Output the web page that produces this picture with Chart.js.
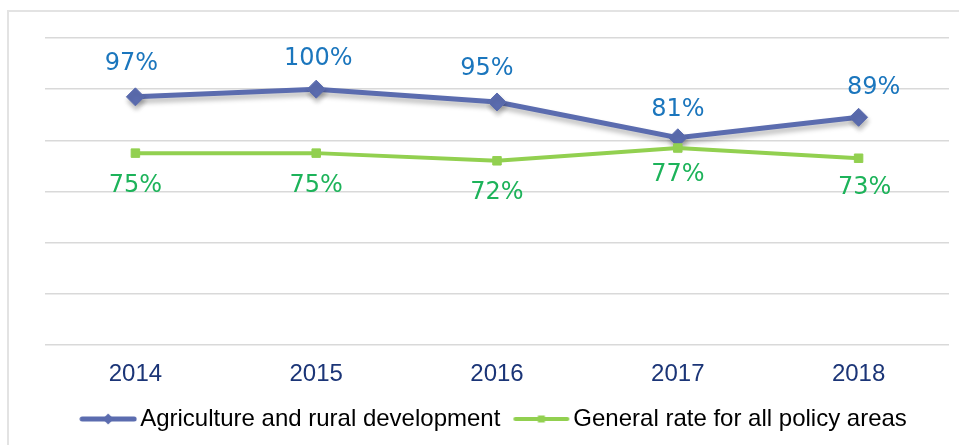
<!DOCTYPE html>
<html>
<head>
<meta charset="utf-8">
<script src="https://cdn.jsdelivr.net/npm/chart.js@4/dist/chart.umd.min.js"></script>
<style>
  html, body { margin: 0; padding: 0; background: #ffffff; }
  #frame { position: absolute; left: 7px; top: 10px; width: 970px; height: 460px; border: 2px solid #e3e3e3; box-sizing: border-box; }
  #wrap { position: absolute; left: 0; top: 0; width: 959px; height: 445px; }
</style>
</head>
<body>
<div id="frame"></div>
<div id="wrap"><canvas id="c" width="959" height="445"></canvas></div>
<script>
const years = ['2014', '2015', '2016', '2017', '2018'];
const agriculture = [97, 100, 95, 81, 89];
const generalRate = [75, 75, 72, 77, 73];
const seriesNames = ['Agriculture and rural development', 'General rate for all policy areas'];
const yTicks = [0, 20, 40, 60, 80, 100, 120];

const BLUE = '#5B6CAF';
const GREEN = '#92D050';

function legendImage(color, lineW, style, r) {
  const cv = document.createElement('canvas');
  cv.width = 58; cv.height = 14;
  const g = cv.getContext('2d');
  g.strokeStyle = color; g.fillStyle = color; g.lineWidth = lineW; g.lineCap = 'round';
  g.beginPath(); g.moveTo(3, 7); g.lineTo(55, 7); g.stroke();
  g.beginPath();
  if (style === 'diamond') {
    g.moveTo(29, 7 - r); g.lineTo(29 + r, 7); g.lineTo(29, 7 + r); g.lineTo(29 - r, 7); g.closePath();
  } else {
    g.rect(29 - r, 7 - r, 2 * r, 2 * r);
  }
  g.fill();
  return cv;
}
const legendImgs = [legendImage(BLUE, 5, 'diamond', 5.5), legendImage(GREEN, 4, 'square', 3.5)];

const shadowPlugin = {
  id: 'shadowLine',
  beforeDatasetDraw(chart, args) {
    if (args.index === 0) {
      const ctx = chart.ctx;
      ctx.save();
      ctx.shadowColor = 'rgba(0,0,0,0.28)';
      ctx.shadowBlur = 5;
      ctx.shadowOffsetY = 4;
      ctx.shadowOffsetX = 1;
    }
  },
  afterDatasetDraw(chart, args) {
    if (args.index === 0) chart.ctx.restore();
  }
};

const labelPlugin = {
  id: 'pointLabels',
  afterDatasetsDraw(chart, args, opts) {
    const ctx = chart.ctx;
    ctx.save();
    ctx.font = '24px "DejaVu Sans", Verdana, sans-serif';
    ctx.textAlign = 'center';
    ctx.textBaseline = 'middle';
    chart.data.datasets.forEach((ds, di) => {
      const meta = chart.getDatasetMeta(di);
      const cfg = opts.series[di];
      ctx.fillStyle = cfg.color;
      meta.data.forEach((pt, i) => {
        ctx.fillText(ds.data[i] + '%', pt.x + cfg.dx[i], pt.y + cfg.dy[i]);
      });
    });
    ctx.restore();
  }
};

new Chart(document.getElementById('c'), {
  type: 'line',
  data: {
    labels: years,
    datasets: [
      {
        label: seriesNames[0],
        data: agriculture,
        borderColor: BLUE,
        backgroundColor: BLUE,
        borderWidth: 5,
        pointStyle: 'rectRot',
        pointRadius: 9,
        pointHoverRadius: 9,
        pointBorderWidth: 1,
        tension: 0,
        order: 1
      },
      {
        label: seriesNames[1],
        data: generalRate,
        borderColor: GREEN,
        backgroundColor: GREEN,
        borderWidth: 4,
        pointStyle: 'rect',
        pointRadius: 6,
        pointHoverRadius: 6,
        pointBorderWidth: 1,
        tension: 0,
        order: 0
      }
    ]
  },
  options: {
    responsive: false,
    animation: false,
    devicePixelRatio: 1,
    layout: { padding: { left: 45, right: 9, top: 38, bottom: 4 } },
    scales: {
      x: {
        offset: true,
        grid: { display: false, drawTicks: false },
        border: { display: false },
        afterFit(scale) { scale.height = 41; },
        ticks: {
          color: '#1B3577',
          padding: 15,
          font: { family: '"Liberation Sans", Arial, sans-serif', size: 24 }
        }
      },
      y: {
        min: 0,
        max: 120,
        afterBuildTicks(scale) { scale.ticks = yTicks.map(v => ({ value: v })); },
        ticks: { display: false },
        grid: { color: '#D9D9D9', lineWidth: 1.5, drawTicks: false },
        border: { display: false }
      }
    },
    plugins: {
      tooltip: { enabled: false },
      legend: {
        position: 'bottom',
        labels: {
          usePointStyle: true,
          pointStyleWidth: 40,
          padding: 21,
          color: '#000000',
          font: { family: '"Liberation Sans", Arial, sans-serif', size: 24 },
          generateLabels(chart) {
            return chart.data.datasets.map((ds, i) => ({
              text: ds.label,
              pointStyle: legendImgs[i],
              fillStyle: ds.borderColor,
              strokeStyle: ds.borderColor,
              lineWidth: 0,
              hidden: false,
              datasetIndex: i,
              fontColor: '#000000'
            }));
          }
        }
      },
      pointLabels: {
        series: [
          { color: '#1B76BD', dx: [-4, 2, -10, 0, 15], dy: [-33, -30, -33, -28, -30] },
          { color: '#1DB35A', dx: [0, 0, 0, 0, 6], dy: [33, 33, 32, 27, 30] }
        ]
      }
    }
  },
  plugins: [shadowPlugin, labelPlugin]
});
</script>
</body>
</html>
